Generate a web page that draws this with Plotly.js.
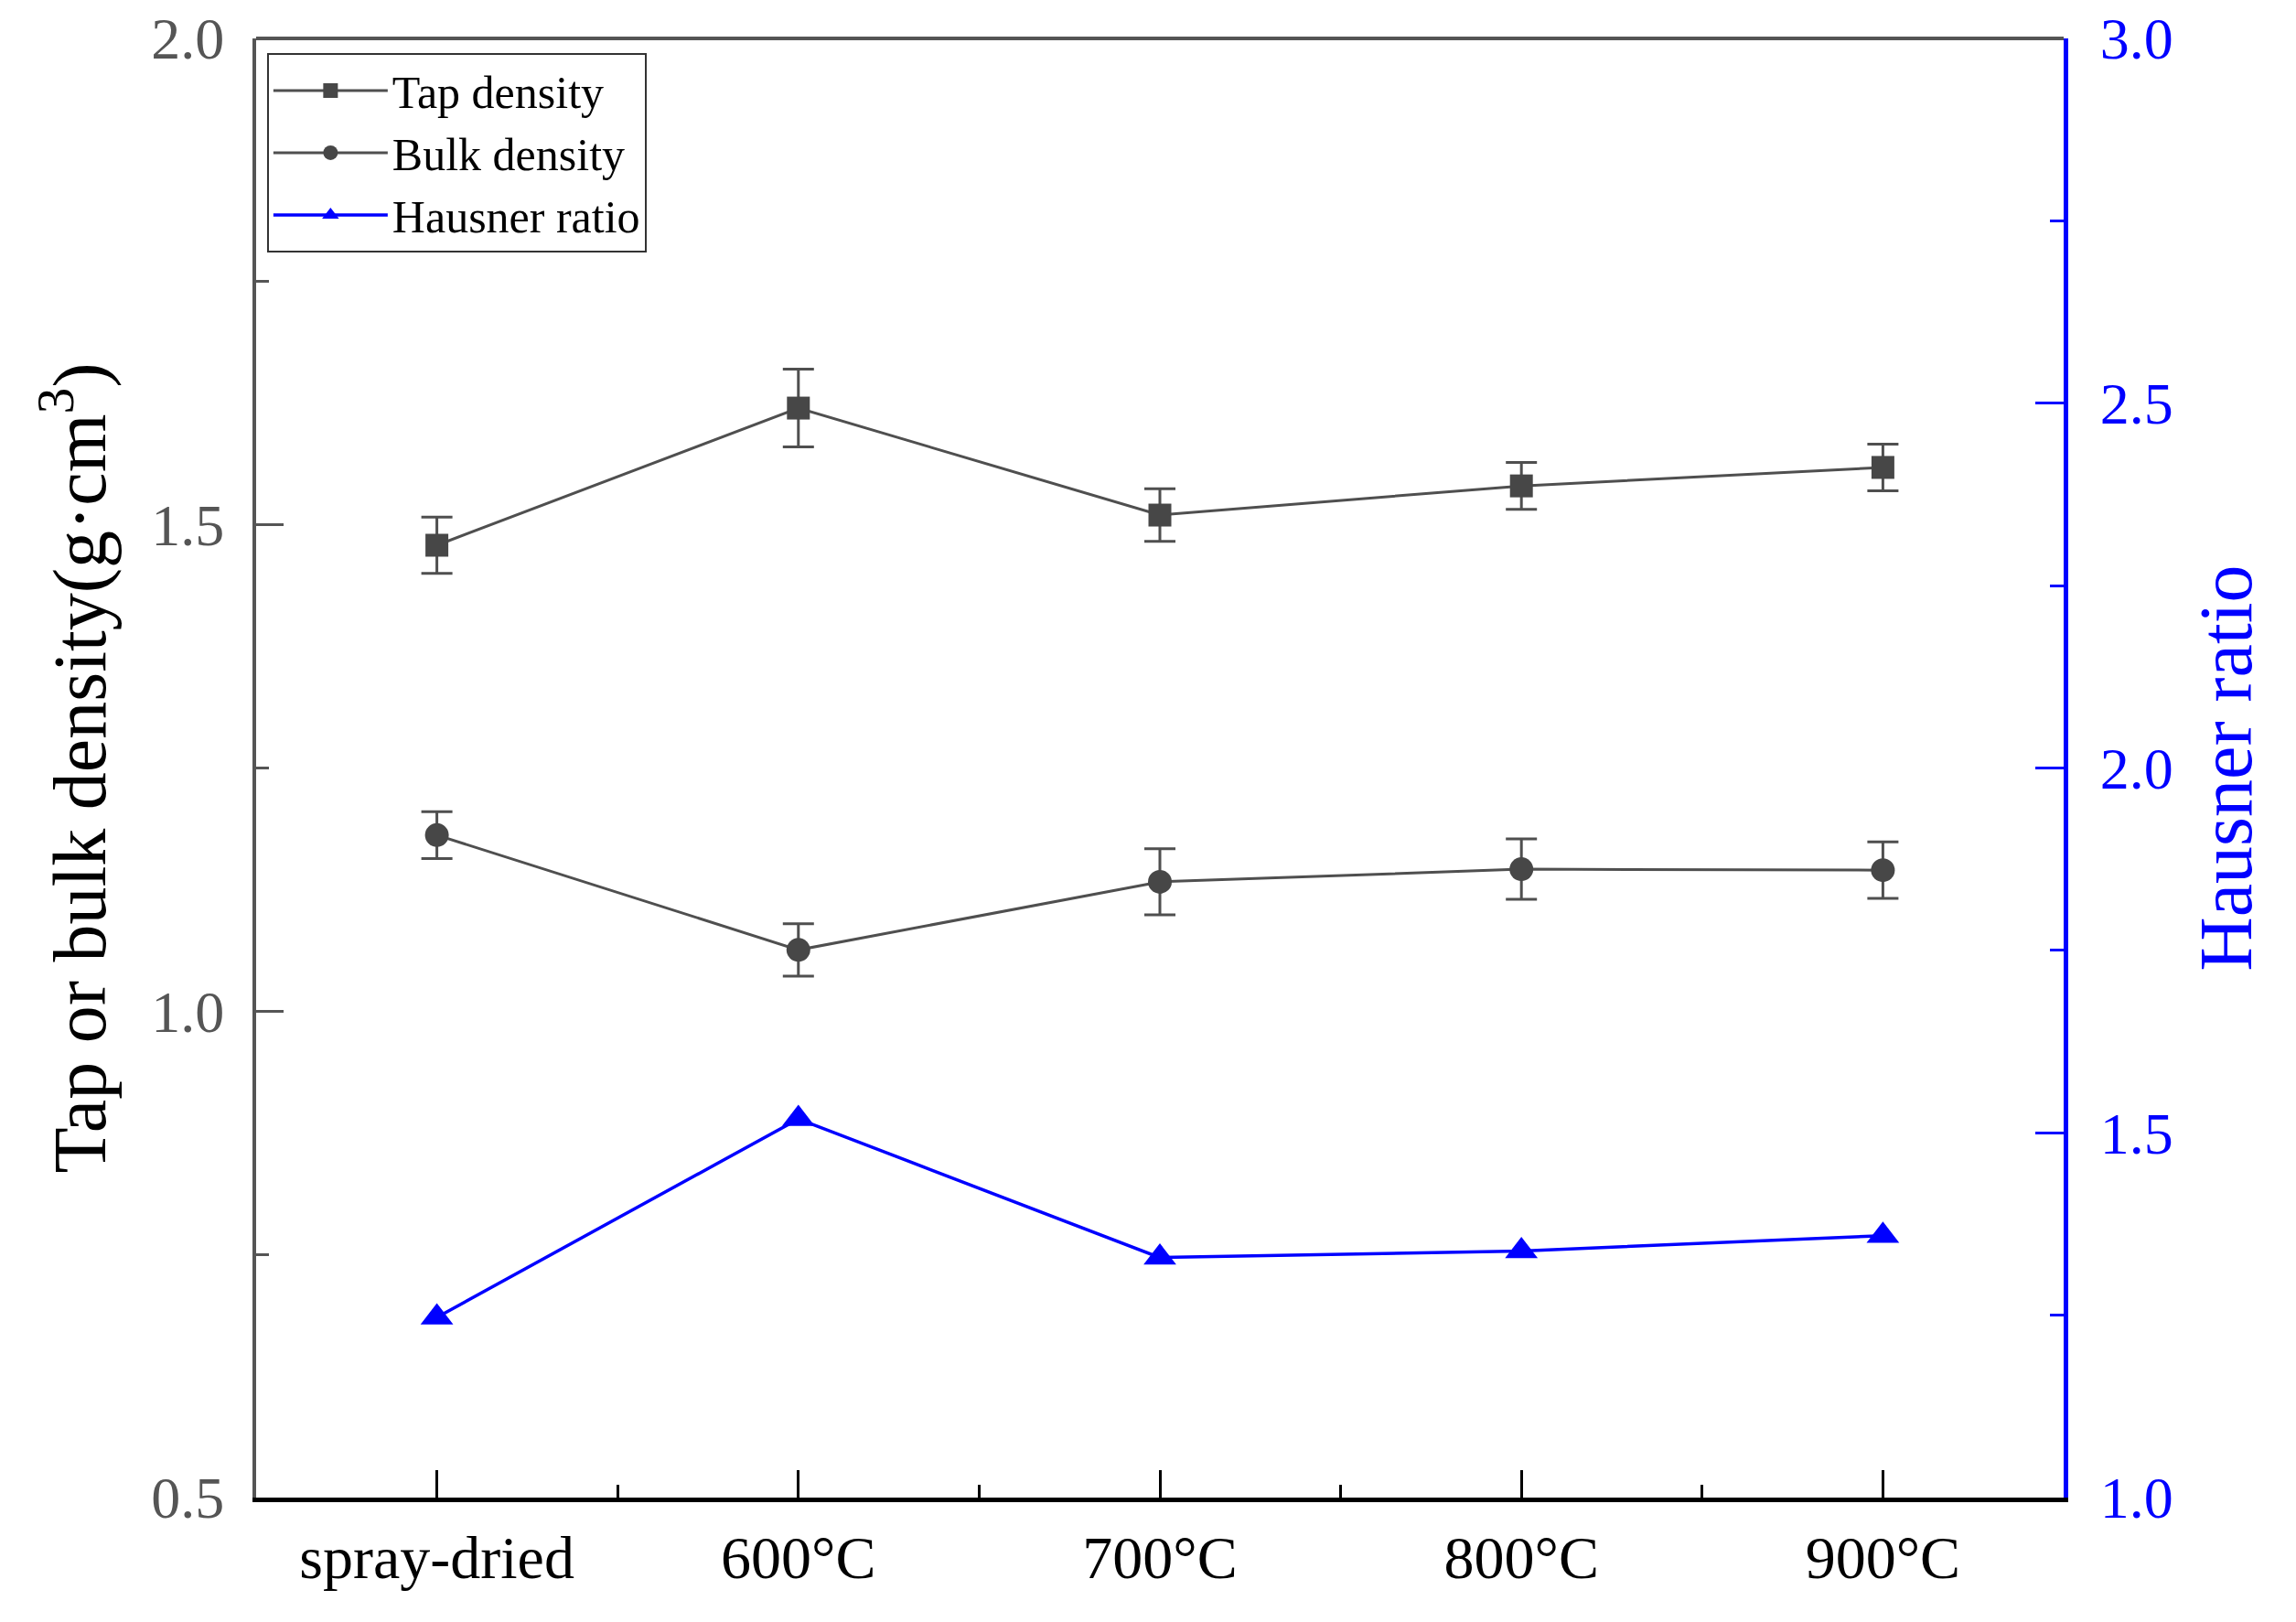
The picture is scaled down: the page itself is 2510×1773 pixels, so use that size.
<!DOCTYPE html>
<html>
<head>
<meta charset="utf-8">
<script src="https://cdn.plot.ly/plotly-3.0.1.min.js"></script>
<style>html,body{margin:0;padding:0;background:#fff;}#chart{width:2510px;height:1773px;}</style>
</head>
<body>
<div id="chart"></div>
<script>
// ---- data ----
const categories = ['spray-dried', '600°C', '700°C', '800°C', '900°C'];
const tapDensity = [1.479, 1.620, 1.510, 1.540, 1.559];
const tapError = [0.029, 0.040, 0.027, 0.024, 0.024];
const bulkDensity = [1.181, 1.063, 1.133, 1.146, 1.145];
const bulkError = [0.024, 0.027, 0.034, 0.031, 0.029];
const hausnerRatio = [1.247, 1.519, 1.329, 1.338, 1.359];
const seriesNames = ['Tap density', 'Bulk density', 'Hausner ratio'];
const leftAxisTitle = 'Tap or bulk density(g·cm<sup>3</sup>)';
const rightAxisTitle = 'Hausner ratio';

const xIdx = categories.map((_, i) => i);
const minorX = categories.slice(1).map((_, i) => i + 0.5);

const GRAY = '#4f4f4f';
const MARK = '#474747';
const BLUE = '#0000ff';
const FONT = 'Liberation Serif, Times New Roman, serif';

const traces = [
  {
    x: xIdx, y: tapDensity, name: seriesNames[0], type: 'scatter', mode: 'lines+markers',
    line: {color: GRAY, width: 3},
    marker: {symbol: 'square', size: 25, color: MARK},
    error_y: {type: 'data', array: tapError, visible: true, color: GRAY, thickness: 3, width: 17}
  },
  {
    x: xIdx, y: bulkDensity, name: seriesNames[1], type: 'scatter', mode: 'lines+markers',
    line: {color: GRAY, width: 3},
    marker: {symbol: 'circle', size: 26, color: MARK},
    error_y: {type: 'data', array: bulkError, visible: true, color: GRAY, thickness: 3, width: 17}
  },
  {
    x: xIdx, y: hausnerRatio, name: seriesNames[2], type: 'scatter', mode: 'lines+markers',
    yaxis: 'y2',
    line: {color: BLUE, width: 3.5},
    marker: {symbol: 'triangle-up', size: 31, color: BLUE}
  }
];

const layout = {
  width: 2510, height: 1773,
  margin: {l: 280, r: 254, t: 42, b: 136},
  paper_bgcolor: '#fff', plot_bgcolor: '#fff',
  font: {family: FONT, color: '#000'},
  showlegend: true,
  legend: {
    x: 0.006, y: 0.99, xanchor: 'left', yanchor: 'top',
    bordercolor: '#333', borderwidth: 2, bgcolor: '#fff',
    font: {family: FONT, size: 50, color: '#000'},
    itemwidth: 125, tracegroupgap: 0, itemsizing: 'trace'
  },
  xaxis: {
    range: [-0.5, 4.5], tickmode: 'array', tickvals: xIdx, ticktext: categories,
    showgrid: false, zeroline: false,
    showline: true, linecolor: '#000', linewidth: 5,
    ticks: 'inside', ticklen: 30, tickwidth: 3, tickcolor: '#000',
    minor: {tickmode: 'array', tickvals: minorX, ticks: 'inside', ticklen: 14, tickwidth: 3, tickcolor: '#000'},
    tickfont: {family: FONT, size: 66, color: '#000'},
    ticklabelstandoff: 4
  },
  yaxis: {
    range: [0.5, 2.0], dtick: 0.5, tick0: 0.5, tickformat: '.1f',
    showgrid: false, zeroline: false,
    showline: true, linecolor: '#555', linewidth: 4,
    ticks: 'inside', ticklen: 30, tickwidth: 3, tickcolor: '#555',
    minor: {dtick: 0.25, ticks: 'inside', ticklen: 14, tickwidth: 3, tickcolor: '#555'},
    tickfont: {family: FONT, size: 64, color: '#555'},
    ticklabelstandoff: 18,
    title: {text: leftAxisTitle, font: {family: FONT, size: 82, color: '#000'}, standoff: 24}
  },
  yaxis2: {
    overlaying: 'y', side: 'right', anchor: 'x',
    range: [1.0, 3.0], dtick: 0.5, tick0: 1.0, tickformat: '.1f',
    showgrid: false, zeroline: false,
    showline: true, linecolor: BLUE, linewidth: 5,
    ticks: 'inside', ticklen: 31, tickwidth: 3, tickcolor: BLUE,
    minor: {dtick: 0.25, ticks: 'inside', ticklen: 15, tickwidth: 3, tickcolor: BLUE},
    tickfont: {family: FONT, size: 64, color: BLUE},
    ticklabelstandoff: 22,
    title: {text: rightAxisTitle, font: {family: FONT, size: 82, color: BLUE}, standoff: 30}
  },
  shapes: [
    {type: 'line', xref: 'paper', yref: 'paper', x0: 0, x1: 1, y0: 1, y1: 1,
     line: {color: '#555', width: 4}, layer: 'above'}
  ]
};

Plotly.newPlot('chart', traces, layout, {staticPlot: true, displayModeBar: false});
</script>
</body>
</html>
